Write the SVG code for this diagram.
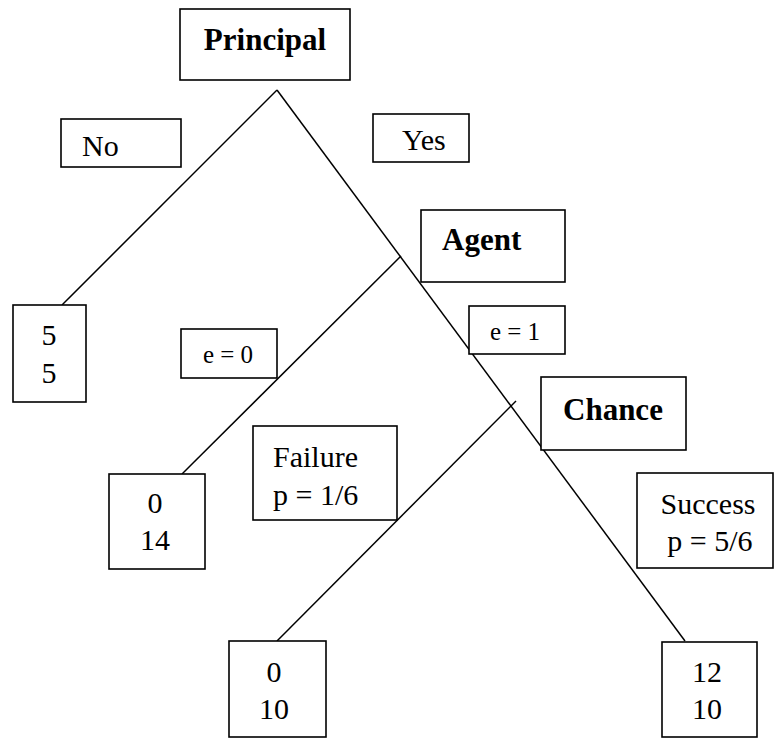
<svg xmlns="http://www.w3.org/2000/svg" width="775" height="738" viewBox="0 0 775 738">
<style>
rect{fill:#fff;stroke:#000;stroke-width:1.6}
line{stroke:#000;stroke-width:1.5}
text{font-family:"Liberation Serif","Times New Roman",serif;fill:#000;font-size:30px}
.b{font-weight:bold;font-size:31px}
.s{font-size:25px}
.m{text-anchor:middle}
</style>
<rect width="775" height="738" style="fill:#fff;stroke:none"/>
<g id="connectors">
<line x1="277" y1="90" x2="62" y2="305"/>
<line x1="277" y1="90" x2="685" y2="641"/>
<line x1="401" y1="256" x2="182" y2="474"/>
<line x1="516" y1="401" x2="277" y2="641"/>
</g>
<g id="principal"><rect x="180" y="9" width="170" height="71"/><text class="b m" x="265" y="50">Principal</text></g>
<g id="no"><rect x="61" y="119" width="120" height="48"/><text x="82" y="156">No</text></g>
<g id="yes"><rect x="373" y="114" width="96" height="48"/><text x="402" y="150">Yes</text></g>
<g id="agent"><rect x="421" y="210" width="144" height="72"/><text class="b" x="442" y="250">Agent</text></g>
<g id="e0"><rect x="181" y="329" width="96" height="49"/><text class="s m" x="228" y="363">e = 0</text></g>
<g id="e1"><rect x="469" y="306" width="96" height="48"/><text class="s m" x="515" y="340">e = 1</text></g>
<g id="chance"><rect x="541" y="377" width="145" height="73"/><text class="b" x="563" y="420">Chance</text></g>
<g id="payoff55"><rect x="13" y="305" width="73" height="97"/><text class="m" x="49" y="345">5</text><text class="m" x="49" y="383">5</text></g>
<g id="failure"><rect x="253" y="426" width="144" height="94"/><text x="273" y="467">Failure</text><text x="273" y="505">p = 1/6</text></g>
<g id="payoff014"><rect x="109" y="474" width="96" height="95"/><text class="m" x="155" y="513">0</text><text class="m" x="155" y="550">14</text></g>
<g id="success"><rect x="637" y="473" width="136" height="95"/><text class="m" x="708" y="514">Success</text><text class="m" x="710" y="551">p = 5/6</text></g>
<g id="payoff010"><rect x="229" y="641" width="97" height="96"/><text class="m" x="274" y="682">0</text><text class="m" x="274" y="719">10</text></g>
<g id="payoff1210"><rect x="662" y="642" width="95" height="95"/><text class="m" x="707" y="682">12</text><text class="m" x="707" y="719">10</text></g>
</svg>
